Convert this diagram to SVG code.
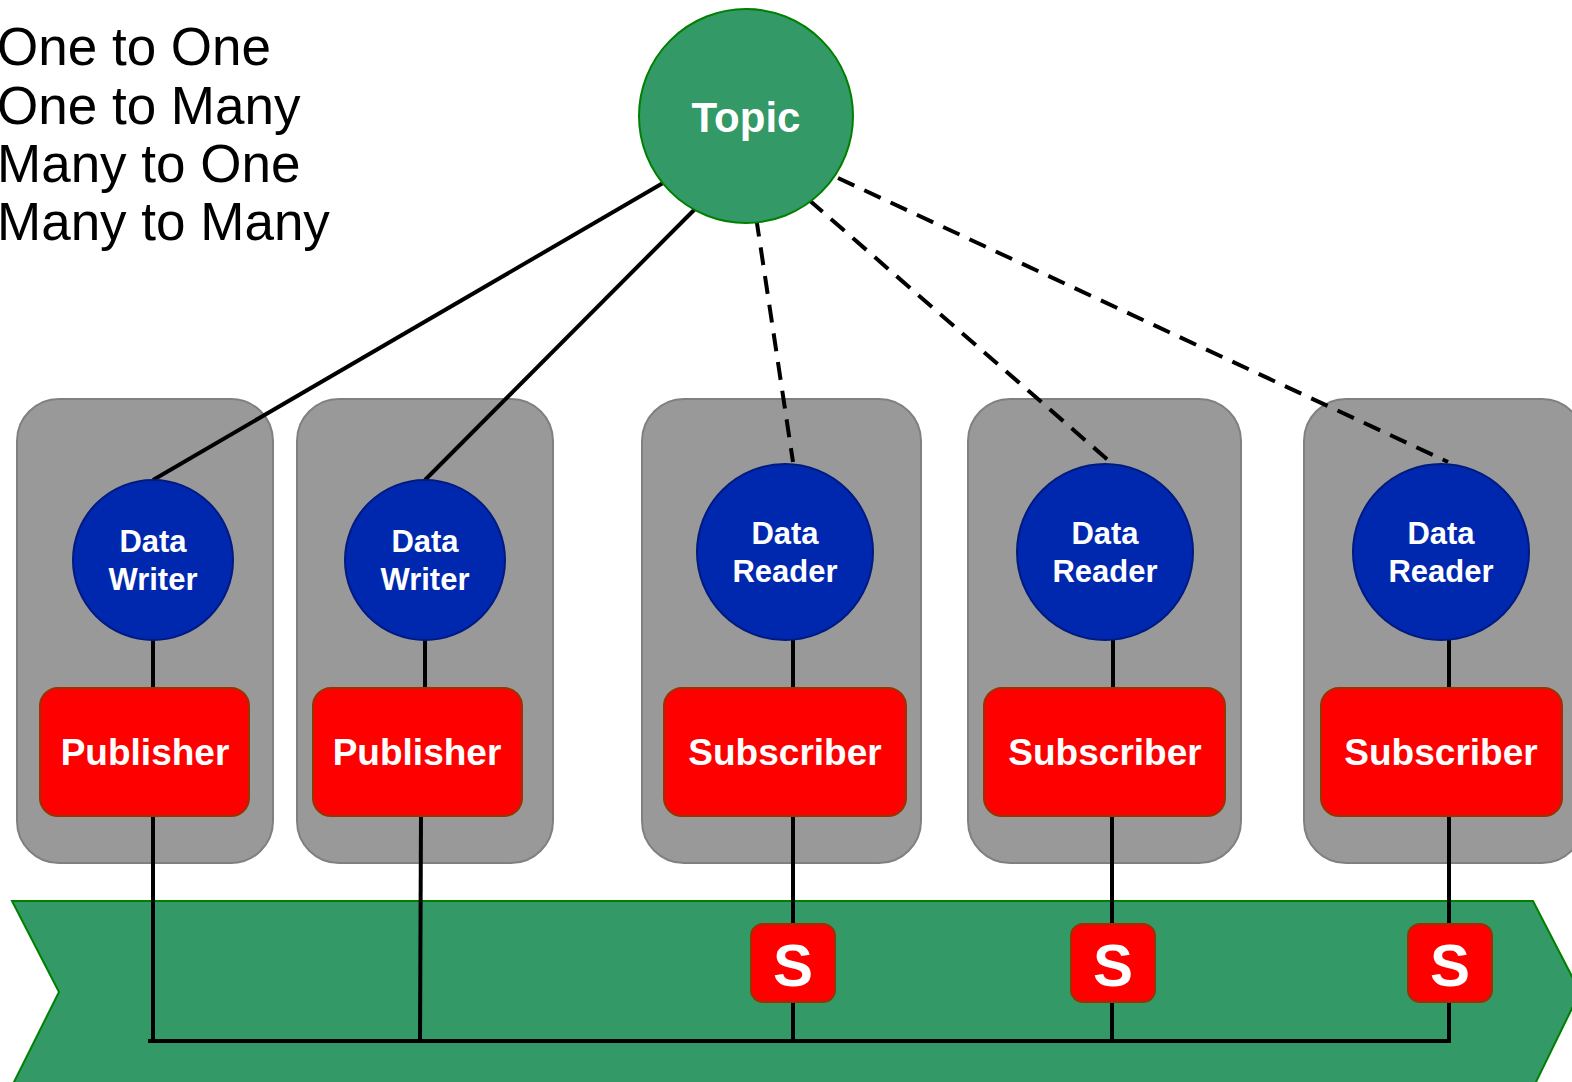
<svg xmlns="http://www.w3.org/2000/svg" width="1572" height="1082" viewBox="0 0 1572 1082">
<style>
.lbl{font-family:"Liberation Sans",Arial,sans-serif;fill:#000;font-size:53px}
.w{font-family:"Liberation Sans",Arial,sans-serif;fill:#fff;font-weight:bold;text-anchor:middle}
.grp{fill:#999999;stroke:#808080;stroke-width:2}
.ent{fill:#0028AE;stroke:#001a80;stroke-width:2}
.red{fill:#FF0000;stroke:#993300;stroke-width:2}
.ln{stroke:#000;stroke-width:4;fill:none}
.dash{stroke:#000;stroke-width:4;fill:none;stroke-dasharray:18 11}
</style>
<rect width="1572" height="1082" fill="#fff"/>
<g id="legend">
<text class="lbl" x="-3" y="65">One to One</text>
<text class="lbl" x="-3" y="124">One to Many</text>
<text class="lbl" x="-3" y="182">Many to One</text>
<text class="lbl" x="-3" y="240">Many to Many</text>
</g>
<g id="domain">
<polygon points="12,901 1533,901 1580,992 1535,1084 13,1084 59,992" fill="#339966" stroke="#008000" stroke-width="2"/>
</g>
<g id="participants">
<rect id="p1" class="grp" x="17" y="399" width="256" height="464" rx="42"/>
<rect id="p2" class="grp" x="297" y="399" width="256" height="464" rx="42"/>
<rect id="p3" class="grp" x="642" y="399" width="279" height="464" rx="42"/>
<rect id="p4" class="grp" x="968" y="399" width="273" height="464" rx="42"/>
<rect id="p5" class="grp" x="1304" y="399" width="280" height="464" rx="42"/>
</g>
<g id="connectors">
<line class="ln" x1="663" y1="183" x2="153" y2="480"/>
<line class="ln" x1="695" y1="209" x2="425" y2="480"/>
<line class="dash" x1="752" y1="190" x2="793" y2="462"/>
<line class="dash" x1="809" y1="200" x2="1108" y2="460"/>
<line class="dash" x1="838" y1="178" x2="1448" y2="462"/>
<line class="ln" x1="153" y1="639" x2="153" y2="690"/>
<line class="ln" x1="425" y1="639" x2="425" y2="690"/>
<line class="ln" x1="793" y1="639" x2="793" y2="690"/>
<line class="ln" x1="1113" y1="639" x2="1113" y2="690"/>
<line class="ln" x1="1449" y1="639" x2="1449" y2="690"/>
<line class="ln" x1="153" y1="815" x2="153" y2="1041"/>
<line class="ln" x1="421" y1="815" x2="420" y2="1041"/>
<line class="ln" x1="793" y1="815" x2="793" y2="1041"/>
<line class="ln" x1="1112" y1="815" x2="1112" y2="1041"/>
<line class="ln" x1="1449" y1="815" x2="1449" y2="1041"/>
<line class="ln" x1="148" y1="1041" x2="1451" y2="1041"/>
</g>
<g id="topic">
<circle cx="746" cy="116" r="107" fill="#339966" stroke="#008000" stroke-width="2"/>
<text class="w" x="746" y="132" font-size="42">Topic</text>
</g>
<g id="writer1">
<circle class="ent" cx="153" cy="560" r="80"/>
<text class="w" x="153" y="552" font-size="31">Data</text>
<text class="w" x="153" y="590" font-size="31">Writer</text>
</g>
<g id="writer2">
<circle class="ent" cx="425" cy="560" r="80"/>
<text class="w" x="425" y="552" font-size="31">Data</text>
<text class="w" x="425" y="590" font-size="31">Writer</text>
</g>
<g id="reader1">
<circle class="ent" cx="785" cy="552" r="88"/>
<text class="w" x="785" y="544" font-size="31">Data</text>
<text class="w" x="785" y="582" font-size="31">Reader</text>
</g>
<g id="reader2">
<circle class="ent" cx="1105" cy="552" r="88"/>
<text class="w" x="1105" y="544" font-size="31">Data</text>
<text class="w" x="1105" y="582" font-size="31">Reader</text>
</g>
<g id="reader3">
<circle class="ent" cx="1441" cy="552" r="88"/>
<text class="w" x="1441" y="544" font-size="31">Data</text>
<text class="w" x="1441" y="582" font-size="31">Reader</text>
</g>
<g id="publisher1">
<rect class="red" x="40" y="688" width="209" height="128" rx="18"/>
<text class="w" x="145" y="765" font-size="37">Publisher</text>
</g>
<g id="publisher2">
<rect class="red" x="313" y="688" width="209" height="128" rx="18"/>
<text class="w" x="417" y="765" font-size="37">Publisher</text>
</g>
<g id="subscriber1">
<rect class="red" x="664" y="688" width="242" height="128" rx="18"/>
<text class="w" x="785" y="765" font-size="37">Subscriber</text>
</g>
<g id="subscriber2">
<rect class="red" x="984" y="688" width="241" height="128" rx="18"/>
<text class="w" x="1105" y="765" font-size="37">Subscriber</text>
</g>
<g id="subscriber3">
<rect class="red" x="1321" y="688" width="241" height="128" rx="18"/>
<text class="w" x="1441" y="765" font-size="37">Subscriber</text>
</g>
<g id="s1">
<rect class="red" x="751" y="924" width="84" height="78" rx="12"/>
<text class="w" x="793" y="986" font-size="60">S</text>
</g>
<g id="s2">
<rect class="red" x="1071" y="924" width="84" height="78" rx="12"/>
<text class="w" x="1113" y="986" font-size="60">S</text>
</g>
<g id="s3">
<rect class="red" x="1408" y="924" width="84" height="78" rx="12"/>
<text class="w" x="1450" y="986" font-size="60">S</text>
</g>
</svg>
